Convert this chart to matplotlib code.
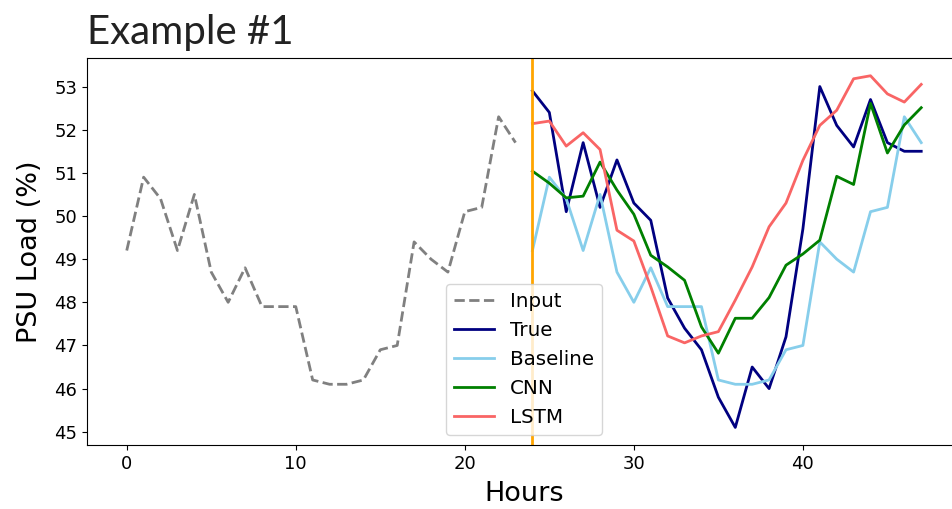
import matplotlib.pyplot as plt

# Data
hours_in = list(range(0, 24))
hours_out = list(range(24, 48))

input_load = [49.2, 50.9, 50.4, 49.2, 50.5, 48.7, 48.0, 48.8, 47.9, 47.9, 47.9, 46.2,
              46.1, 46.1, 46.2, 46.9, 47.0, 49.4, 49.0, 48.7, 50.1, 50.2, 52.3, 51.7]
true_load = [52.9, 52.4, 50.1, 51.7, 50.2, 51.3, 50.3, 49.9, 48.1, 47.4, 46.9, 45.8,
             45.1, 46.5, 46.0, 47.2, 49.7, 53.0, 52.1, 51.6, 52.7, 51.7, 51.5, 51.5]
baseline = [49.2, 50.9, 50.4, 49.2, 50.5, 48.7, 48.0, 48.8, 47.9, 47.9, 47.9, 46.2,
            46.1, 46.1, 46.2, 46.9, 47.0, 49.4, 49.0, 48.7, 50.1, 50.2, 52.3, 51.7]
cnn = [51.04, 50.76, 50.42, 50.46, 51.25, 50.6, 50.04, 49.09, 48.82, 48.51, 47.43, 46.82,
       47.63, 47.63, 48.11, 48.86, 49.12, 49.44, 50.92, 50.73, 52.61, 51.46, 52.11, 52.51]
lstm = [52.14, 52.2, 51.62, 51.93, 51.54, 49.67, 49.42, 48.36, 47.22, 47.06, 47.22, 47.32,
        48.05, 48.82, 49.75, 50.3, 51.29, 52.1, 52.45, 53.18, 53.25, 52.83, 52.64, 53.05]

fig = plt.figure(figsize=(9.52, 5.09), dpi=100)
ax = fig.add_axes([0.0914, 0.1257, 0.918, 0.760])

ax.plot(hours_in, input_load, color="gray", linestyle="--", linewidth=2, label="Input")
ax.plot(hours_out, true_load, color="navy", linewidth=2, label="True")
ax.plot(hours_out, baseline, color="skyblue", linewidth=2, label="Baseline")
ax.plot(hours_out, cnn, color="green", linewidth=2, label="CNN")
ax.plot(hours_out, lstm, color="#f96565", linewidth=2, label="LSTM")
ax.axvline(24, color="orange", linewidth=2)

ax.set_yticks([45, 46, 47, 48, 49, 50, 51, 52, 53])
ax.tick_params(labelsize=13)
ax.set_xlabel("Hours", fontsize=19.5, labelpad=6)
ax.set_ylabel("PSU Load (%)", fontsize=19.5, labelpad=8)
ax.set_title("Example #1", fontsize=29, loc="left", family="Lato",
             color="#222222", pad=10)
ax.legend(fontsize=14.3, loc="lower center")

fig.savefig("out.png", dpi=100)
